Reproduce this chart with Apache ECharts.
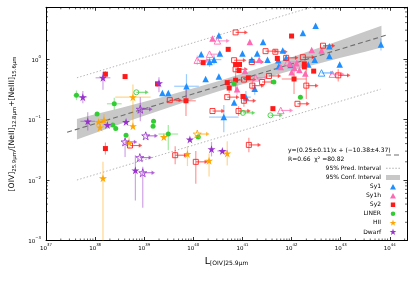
<!DOCTYPE html>
<html><head><meta charset="utf-8">
<script src="https://cdn.jsdelivr.net/npm/echarts@6/dist/echarts.min.js"></script>
<style>html,body{margin:0;padding:0;background:#fff}#c{width:415px;height:282px}</style>
</head><body><div id="c"></div>
<script>
// ---- data (log10 units) ----
const xRange = [37, 44.35];
const yRange = [-3, 0.855];
// regression line and intervals
const fitX = [37.43, 43.95];
const fitY = [-1.21, 0.40];
const predX = [37.63, 43.81];
const predUp = [-0.31, 1.20];
const predLo = [-2.00, -0.50];
const bandX  = [37.63, 38.0, 38.5, 39.0, 39.5, 40.0, 40.5, 41.0, 41.5, 42.0, 42.5, 43.0, 43.5, 43.83];
const bandLo = [-1.331, -1.223, -1.080, -0.938, -0.800, -0.665, -0.537, -0.415, -0.301, -0.191, -0.085, 0.020, 0.122, 0.190];
const bandHi = [-0.991, -0.915, -0.812, -0.706, -0.598, -0.485, -0.367, -0.241, -0.109, 0.029, 0.169, 0.312, 0.456, 0.552];
// detections: [logL, logRatio, xErr, yErrLow, yErrHigh]
const sy1 = [
 [40.52,0.39,0,0,0],[41.42,0.28,0,0,0],[41.82,0.14,0,0,0],[40.54,0.09,0,0,0],[41.00,0.09,0,0,0],
 [41.30,0.09,0,0,0],[40.42,-0.01,0.15,0.08,0.08],[41.19,-0.01,0,0,0],[41.51,-0.01,0,0,0],[41.73,-0.02,0,0,0],
 [40.16,0.08,0,0,0],[40.52,-0.29,0,0,0],[40.25,-0.33,0,0,0],[39.86,-0.45,0.25,0.2,0.2],[39.49,-0.56,0,0,0],
 [39.37,-0.56,0,0,0],[40.83,-0.72,0,0,0],[41.07,-0.63,0.1,0.1,0.1],[40.62,-0.96,0.3,0.25,0.2],[41.25,-0.49,0,0.1,0.1],
 [41.74,-0.12,0,0,0],[42.23,0.43,0,0,0],[42.49,0.55,0,0,0],[42.77,0.21,0,0,0],[42.77,0.05,0,0,0],
 [43.82,0.24,0,0.1,0.1],[42.47,-0.01,0,0,0],[41.89,0.02,0,0,0],[41.98,-0.10,0,0,0],[42.34,-0.09,0,0,0],
 [42.98,-0.09,0,0,0],[40.33,-0.05,0.12,0.08,0.08]
];
const sy1h = [
 [40.39,0.34,0,0,0],[41.15,0.28,0,0,0],[41.34,-0.01,0,0,0],[40.89,-0.50,0,0.1,0.1],[42.41,0.15,0,0,0],
 [42.61,0.14,0,0,0],[41.96,-0.08,0,0,0],[42.06,-0.15,0,0,0],[42.16,-0.18,0,0,0],[42.00,-0.22,0,0,0],
 [42.10,-0.07,0,0,0],[41.78,-0.13,0,0,0],[42.28,-0.24,0,0,0],[41.05,-0.20,0,0,0]
];
const sy2 = [
 [38.21,-0.25,0,0.05,0.05],[38.61,-0.29,0,0,0],[39.27,-0.41,0,0,0],[39.85,-0.69,0.2,0.25,0.25],[38.21,-1.48,0,0.1,0.1],
 [40.71,0.16,0,0,0],[40.20,-0.06,0,0,0],[40.86,-0.09,0,0,0],[40.94,-0.09,0,0,0],[40.93,-0.19,0,0,0],
 [41.71,0.01,0,0,0],[41.12,-0.31,0,0,0],[40.86,-0.35,0.15,0.2,0.2],[40.69,-0.39,0,0,0],[40.73,-0.48,0,0.08,0.08],
 [41.01,-0.62,0,0,0],[41.62,-0.82,0,0,0],[42.00,0.38,0,0,0],[42.26,-0.08,0,0,0],[42.26,-0.13,0,0,0],
 [42.45,-0.20,0,0,0],[42.05,-0.33,0.25,0.25,0.25]
];
const liner = [
 [37.62,-0.60,0.06,0.08,0.08],[38.39,-0.74,0.15,0.1,0.1],[38.04,-0.91,0,0,0],[39.19,-1.03,0,0,0],[38.36,-1.09,0,0,0],
 [38.42,-1.15,0,0,0],[39.18,-1.11,0,0,0],[38.63,-1.26,0,0,0],[39.49,-1.24,0.2,0.27,0.15],[40.10,-1.29,0,0,0],
 [40.83,-0.41,0,0,0],[41.64,-0.38,0,0,0],[42.18,-0.63,0,0,0]
];
const hii = [
 [38.77,-0.63,0.36,0.45,0.21],[38.07,-1.04,0,0,0],[38.18,-1.01,0.1,0.1,0.1],[38.10,-1.13,0,0,0],[38.77,-1.11,0,0,0],
 [39.40,-1.29,0,0,0],[38.69,-1.38,0,0.1,0.1],[38.16,-1.97,0,1.03,0.27],[39.88,-1.57,0,0.2,0.13],[40.32,-1.68,0,0.26,0.12],
 [40.69,-1.56,0,0.2,0.2]
];
const dwarf = [
 [38.16,-0.31,0.15,0.2,0.1],[37.75,-0.63,0.08,0.1,0.1],[39.30,-0.40,0,0.15,0.1],[37.85,-1.03,0.15,0.15,0.15],[38.25,-1.09,0,0,0],
 [38.63,-1.04,0,0,0],[39.93,-1.33,0,0,0],[38.82,-1.84,0,0.5,0.25],[40.37,-1.49,0,0.12,0.12],[40.59,-1.52,0.1,0,0]
];
// lower limits in L (hollow markers with arrows): [logL, logRatio, yErrLow, yErrHigh]
const sy1Lim = [[42.61,-0.23,0,0]];
const sy1hLim = [[40.49,0.30,0,0],[40.08,-0.02,0.08,0.08],[40.33,0.08,0,0],[42.83,-0.25,0,0],[41.78,-0.85,0,0],[41.92,-0.05,0,0],[41.27,-0.31,0,0]];
const sy2Lim = [
 [39.52,-0.68,0,0],[40.86,0.44,0,0],[41.47,0.13,0,0],[41.67,0.12,0,0],[40.83,-0.02,0,0],
 [41.19,-0.05,0,0],[40.86,-0.17,0,0],[41.03,-0.34,0,0],[41.54,-0.28,0,0],[41.20,-0.44,0.1,0.1],
 [41.40,-0.38,0,0],[40.69,-0.63,0,0],[41.03,-0.69,0.1,0.1],[40.39,-0.86,0,0],[40.92,-0.86,0.08,0.08],
 [42.64,0.22,0,0],[42.23,0.03,0,0],[41.89,0.02,0,0],[42.95,-0.27,0.1,0.1],[42.30,-0.44,0.22,0.27],
 [42.12,-0.74,0,0],[38.71,-1.43,0,0],[39.63,-1.59,0.15,0.15],[40.05,-1.70,0.36,0.18],[41.13,-1.42,0.12,0.12]
];
const linerLim = [[38.84,-0.55,0,0],[41.01,-0.89,0,0],[41.57,-0.93,0,0]];
const hiiLim = [[40.08,-1.24,0,0]];
const dwarfLim = [[38.92,-0.83,0.2,0.2],[39.03,-1.27,0,0],[38.61,-1.37,0.25,0],[38.91,-1.63,0,0],[38.97,-1.88,0.58,0.1]];
const fitText = 'y=(0.25\u00b10.11)x + (\u221210.38\u00b14.37)\nR=0.66  \u03c7\u00b2 =80.82';

// ---- styles ----
const FONT = 'DejaVu Sans';
const ARROW = 0.24; // arrow length in dex
const STAR = 'path://M50,0L61.23,34.55L97.55,34.55L68.16,55.9L79.39,90.45L50,69.1L20.61,90.45L31.84,55.9L2.45,34.55L38.77,34.55Z';
// legend icons drawn in a 14x7 box (tiny corner specks fix the box)
const BOX = 'M0,0h0.01v0.01h-0.01zM13.99,6.99h0.01v0.01h-0.01z';
const ICON = {
  triangle: 'path://M4,6.4L7,0.9L10,6.4Z' + BOX,
  rect: 'path://M4.8,1.3h4.4v4.4h-4.4z' + BOX,
  circle: 'path://M4.7,3.5a2.3,2.3 0 1,0 4.6,0a2.3,2.3 0 1,0 -4.6,0Z' + BOX,
  star: 'path://M7,0.1L7.79,2.52L10.33,2.52L8.27,4.01L9.06,6.43L7,4.94L4.94,6.43L5.73,4.01L3.67,2.52L6.21,2.52Z' + BOX
};
const P = v => Math.pow(10, v);
const classes = [
 {name:'Sy1', det:sy1, lim:sy1Lim, color:'#1f8fff', symbol:'triangle', icon:ICON.triangle, size:6.5},
 {name:'Sy1h', det:sy1h, lim:sy1hLim, color:'#ff69b4', symbol:'triangle', icon:ICON.triangle, size:6.5},
 {name:'Sy2', det:sy2, lim:sy2Lim, color:'#ff1a1a', symbol:'rect', icon:ICON.rect, size:5},
 {name:'LINER', det:liner, lim:linerLim, color:'#32cd32', symbol:'circle', icon:ICON.circle, size:5},
 {name:'HII', det:hii, lim:hiiLim, color:'#ffa500', symbol:STAR, icon:ICON.star, size:8},
 {name:'Dwarf', det:dwarf, lim:dwarfLim, color:'#9932cc', symbol:STAR, icon:ICON.star, size:8}
];

const chart = echarts.init(document.getElementById('c'), null, {renderer:'canvas'});
const supLabel = v => { const e = Math.log10(v); const r = Math.round(e); if (Math.abs(e - r) > 1e-6) return ''; return '{b|10}{s|' + (r < 0 ? '\u2212' + (-r) : r) + '}'; };
const labelRich = { b:{fontSize:5.5, fontFamily:FONT, color:'#000', lineHeight:9, verticalAlign:'bottom'}, s:{fontSize:3.9, fontFamily:FONT, color:'#000', verticalAlign:'top'} };
const axLine = {show:true, onZero:false, lineStyle:{color:'#000', width:1}};
const axTick = {show:true, inside:true, length:3.5, lineStyle:{color:'#000', width:0.8}};
function xAx(pos, show) {
  return {type:'log', logBase:10, position:pos, min:P(xRange[0]), max:P(xRange[1]), axisLine:axLine, axisTick:axTick,
    splitLine:{show:false}, axisLabel:{show:show, formatter:supLabel, rich:labelRich, margin:2.5},
    name: show ? '{m|L}{s|[OIV]25.9\u03bcm}' : '', nameLocation:'middle', nameGap:15,
    nameTextStyle:{rich:{m:{fontSize:9.5, fontFamily:FONT, color:'#000', lineHeight:10, verticalAlign:'top'}, s:{fontSize:6, fontFamily:FONT, color:'#000', padding:[4,0,0,0], verticalAlign:'bottom'}}}};
}
function yAx(pos, show) {
  return {type:'log', logBase:10, position:pos, min:P(yRange[0]), max:P(yRange[1]), axisLine:axLine, axisTick:axTick,
    splitLine:{show:false}, axisLabel:{show:show, formatter:supLabel, rich:labelRich, margin:5},
    name: show ? '{m|[OIV]}{s|25.9\u03bcm}{m|/[NeII]}{s|12.8\u03bcm}{m|+[NeIII]}{s|15.6\u03bcm}' : '',
    nameLocation:'middle', nameGap:25, nameRotate:90,
    nameTextStyle:{rich:{m:{fontSize:7.7, fontFamily:FONT, color:'#000', lineHeight:9, verticalAlign:'top'}, s:{fontSize:5.4, fontFamily:FONT, color:'#000', padding:[3.5,0,0,0], verticalAlign:'bottom'}}}};
}

const series = [];
// confidence band
series.push({type:'custom', name:'95% Conf. Interval', z:1, silent:true, itemStyle:{color:'#c8c8c8'},
  data:[[P(40), P(-0.5)]],
  renderItem(params, api){
    const pts = bandX.map((x,i)=>api.coord([P(x), P(bandHi[i])]));
    for (let i = bandX.length-1; i >= 0; i--) pts.push(api.coord([P(bandX[i]), P(bandLo[i])]));
    return {type:'polygon', shape:{points:pts}, style:{fill:'#c8c8c8'}};
  }});
// prediction interval
[predUp, predLo].forEach(arr => series.push({type:'line', name:'95% Pred. Interval', z:2, silent:true, showSymbol:false, symbol:'none',
  itemStyle:{color:'#b4b4b4'}, lineStyle:{color:'#b4b4b4', width:1, type:[1.4,2]},
  data: predX.map((x,i)=>[P(x), P(arr[i])])}));
// fit line
series.push({type:'line', name:'fit', z:2, silent:true, showSymbol:false, symbol:'none',
  lineStyle:{color:'#6e6e6e', width:1.1, type:[5,3]}, data: fitX.map((x,i)=>[P(x), P(fitY[i])])});

// error bars and arrows, then markers
classes.forEach(c => {
  const data = c.det.map(d => [P(d[0]), P(d[1]), P(d[0]-d[2]), P(d[0]+d[2]), P(d[1]-d[3]), P(d[1]+d[4]), 0])
    .concat(c.lim.map(d => [P(d[0]), P(d[1]), P(d[0]), P(d[0]+ARROW), P(d[1]-d[2]), P(d[1]+d[3]), 1]));
  series.push({type:'custom', name:c.name+' err', z:3, silent:true, data,
    renderItem(params, api){
      const y0 = api.value(1), x0 = api.value(0);
      const cpt = api.coord([x0, y0]);
      const xl = api.coord([api.value(2), y0]), xh = api.coord([api.value(3), y0]);
      const yl = api.coord([x0, api.value(4)]), yh = api.coord([x0, api.value(5)]);
      const ch = [];
      const st = {stroke:c.color, lineWidth:1.2, opacity:0.45};
      if (yl[1] - yh[1] > 0.5) ch.push({type:'line', shape:{x1:cpt[0], y1:yh[1], x2:cpt[0], y2:yl[1]}, style:st});
      if (api.value(6) === 0) {
        if (xh[0] - xl[0] > 0.5) ch.push({type:'line', shape:{x1:xl[0], y1:cpt[1], x2:xh[0], y2:cpt[1]}, style:st});
      } else {
        ch.push({type:'line', shape:{x1:cpt[0], y1:cpt[1], x2:xh[0]-2, y2:cpt[1]}, style:{stroke:c.color, lineWidth:1.1, opacity:0.7}});
        ch.push({type:'polygon', shape:{points:[[xh[0]+0.5, cpt[1]], [xh[0]-3, cpt[1]-2.2], [xh[0]-3, cpt[1]+2.2]]}, style:{fill:c.color, opacity:0.7}});
      }
      return {type:'group', children:ch};
    }});
});
classes.forEach(c => {
  series.push({type:'scatter', name:c.name, z:5, silent:true, symbol:c.symbol, symbolSize:c.size,
    itemStyle:{color:c.color, opacity:1}, data:c.det.map(d=>[P(d[0]), P(d[1])])});
  series.push({type:'scatter', name:c.name+' limit', z:5, silent:true, symbol:c.symbol, symbolSize:c.size,
    itemStyle:{color:'rgba(255,255,255,0)', borderColor:c.color, borderWidth:1, opacity:0.85}, data:c.lim.map(d=>[P(d[0]), P(d[1])])});
});
// minor ticks on all four sides
series.push({type:'custom', name:'minor ticks', z:6, silent:true, data:[[P(40), P(-1)]],
  renderItem(params, api){
    const cs = params.coordSys; const ch = [];
    const st = {stroke:'#000', lineWidth:0.6};
    for (let d = Math.floor(xRange[0]); d <= Math.ceil(xRange[1]); d++) for (let m = 2; m <= 9; m++) {
      const v = m * P(d); if (Math.log10(v) >= xRange[1]) continue;
      const x = api.coord([v, P(-1)])[0];
      ch.push({type:'line', shape:{x1:x, y1:cs.y+cs.height, x2:x, y2:cs.y+cs.height-2}, style:st});
      ch.push({type:'line', shape:{x1:x, y1:cs.y, x2:x, y2:cs.y+2}, style:st});
    }
    for (let d = Math.floor(yRange[0]); d <= Math.ceil(yRange[1]); d++) for (let m = 2; m <= 9; m++) {
      const v = m * P(d); if (Math.log10(v) >= yRange[1]) continue;
      const y = api.coord([P(40), v])[1];
      ch.push({type:'line', shape:{x1:cs.x, y1:y, x2:cs.x+2, y2:y}, style:st});
      ch.push({type:'line', shape:{x1:cs.x+cs.width, y1:y, x2:cs.x+cs.width-2, y2:y}, style:st});
    }
    return {type:'group', children:ch};
  }});

chart.setOption({
  animation:false,
  backgroundColor:'#fff',
  grid:{left:46, top:7.3, right:8, bottom:41.5, containLabel:false, outerBoundsMode:'none'},
  xAxis:[xAx('bottom', true), xAx('top', false)],
  yAxis:[yAx('left', true), yAx('right', false)],
  legend:{orient:'vertical', align:'right', right:15, top:164.8, padding:0, itemWidth:14, itemHeight:7, itemGap:2.1,
    symbolKeepAspect:true, selectedMode:false, textStyle:{fontSize:6, fontFamily:FONT, color:'#000', lineHeight:7},
    data:[
      {name:'95% Pred. Interval', icon:'path://M0,3h1.6v1h-1.6zM3.1,3h1.6v1h-1.6zM6.2,3h1.6v1h-1.6zM9.3,3h1.6v1h-1.6zM12.4,3h1.6v1h-1.6z' + BOX, itemStyle:{color:'#b4b4b4'}},
      {name:'95% Conf. Interval', icon:'path://M0,1h14v5h-14z' + BOX, itemStyle:{color:'#c8c8c8'}}
    ].concat(classes.map(c => ({name:c.name, icon:c.icon, itemStyle:{color:c.color}})))},
  graphic:[
    {type:'text', left:288, top:146.5, style:{text:fitText, font:'6px "DejaVu Sans"', fill:'#000', align:'center', lineHeight:8.5, width:92}},
    {type:'line', shape:{x1:386, y1:155, x2:400, y2:155}, style:{stroke:'#6e6e6e', lineWidth:1.1, lineDash:[5,3]}}
  ],
  series
});
</script>
</body></html>
